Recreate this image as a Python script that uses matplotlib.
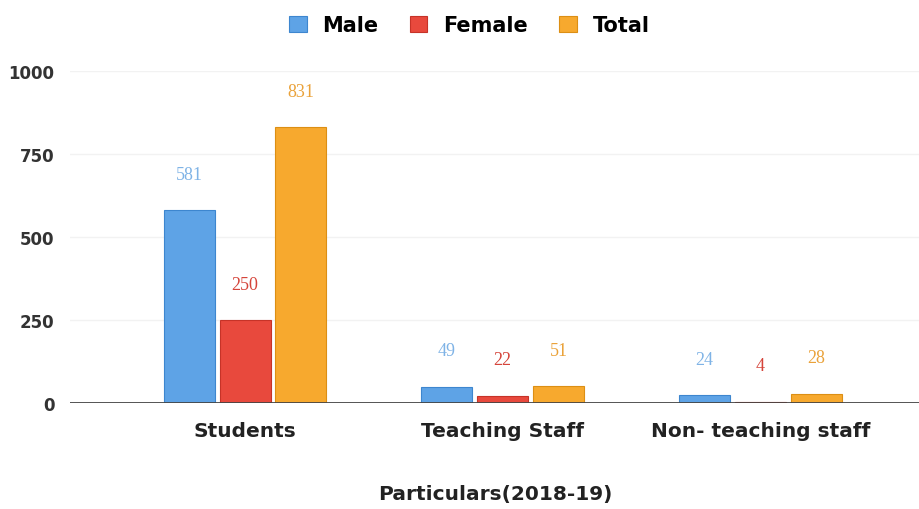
import matplotlib.pyplot as plt
import numpy as np

categories = ['Students', 'Teaching Staff', 'Non- teaching staff']
male = [581, 49, 24]
female = [250, 22, 4]
total = [831, 51, 28]
series_names = ['Male', 'Female', 'Total']

colors = ['#5ea3e6', '#e8493d', '#f7a92e']
edges = ['#3d86cf', '#c63328', '#dc8f14']
label_colors = ['#7fb3e6', '#d5443a', '#eaa23a']

plt.rcParams['font.family'] = ['DejaVu Sans']

fig = plt.figure(figsize=(9.2, 5.1), dpi=100)
ax = fig.add_axes([0.076, 0.208, 0.924, 0.651])

x = np.arange(len(categories))
width = 0.198
offset = 0.217
for i, vals in enumerate([male, female, total]):
    pos = x + (i - 1) * offset
    ax.bar(pos, vals, width, color=colors[i], edgecolor=edges[i], linewidth=0.8,
           label=series_names[i], zorder=3)
    for p, v in zip(pos, vals):
        ax.text(p, v + 108, str(v), ha='center', va='center', fontsize=13,
                color=label_colors[i], family=['Liberation Serif', 'DejaVu Serif'], zorder=4)

ax.set_ylim(0, 1000)
ax.set_xlim(-0.68, 2.62)
ax.set_yticks([0, 250, 500, 750, 1000])
ax.set_xticks(x)
ax.set_xticklabels(categories, fontsize=14.5, fontweight='bold', color='#222222')
for t in ax.get_yticklabels():
    t.set_fontsize(12)
    t.set_fontweight('bold')
    t.set_color('#333333')
ax.tick_params(axis='both', length=0)
ax.tick_params(axis='y', pad=11)
ax.tick_params(axis='x', pad=13)

ax.grid(axis='y', color='#f2f2f2', linewidth=1, zorder=0)
for s in ['top', 'right', 'left', 'bottom']:
    ax.spines[s].set_visible(False)
ax.axhline(0, color='#444444', linewidth=2, zorder=5)

ax.set_xlabel('Particulars(2018-19)', fontsize=14.5, fontweight='bold', color='#222222', labelpad=32)

leg = fig.legend(loc='upper center', bbox_to_anchor=(0.51, 1.005), ncol=3, frameon=False,
                 handlelength=0.85, handleheight=0.85, handletextpad=0.75, columnspacing=1.5,
                 prop={'size': 15, 'weight': 'bold'})

fig.savefig('out.png', dpi=100, facecolor='white')
